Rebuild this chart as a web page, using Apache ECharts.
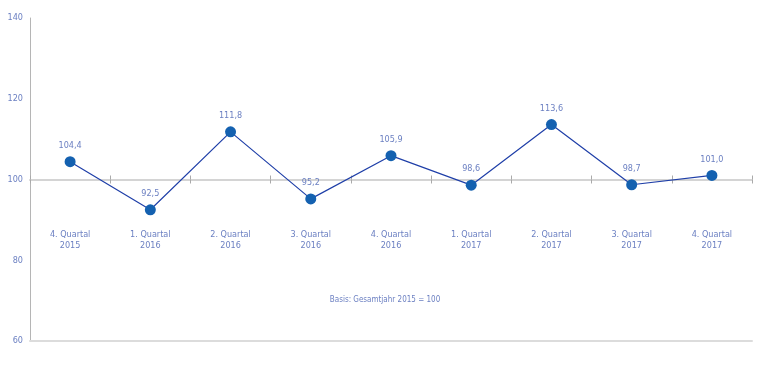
<!DOCTYPE html>
<html><head><meta charset="utf-8">
<script src="https://cdn.jsdelivr.net/npm/echarts@6/dist/echarts.min.js"></script>
<style>html,body{margin:0;padding:0;background:#fff}#c{width:770px;height:365px}</style>
</head><body><div id="c"></div>
<script>
var categories = ["4. Quartal\n2015","1. Quartal\n2016","2. Quartal\n2016","3. Quartal\n2016","4. Quartal\n2016","1. Quartal\n2017","2. Quartal\n2017","3. Quartal\n2017","4. Quartal\n2017"];
var values = [104.4, 92.5, 111.8, 95.2, 105.9, 98.6, 113.6, 98.7, 101.0];
var yTicks = [60, 80, 100, 120, 140];
var note = "Basis: Gesamtjahr 2015 = 100";

var font = "'Liberation Sans Narrow', 'DejaVu Sans Condensed', sans-serif";
var txt = '#6c80c2';
var chart = echarts.init(document.getElementById('c'));
var gridTop = 18, gridBottom = 24, h = 365 - gridTop - gridBottom;
var off100 = -h * (100 - yTicks[0]) / (yTicks[yTicks.length-1] - yTicks[0]);
chart.setOption({
  animation: false,
  grid: {left: 30, right: 18, top: gridTop, bottom: gridBottom},
  xAxis: [
    {type: 'category', data: categories, position: 'bottom', offset: off100,
     axisLine: {lineStyle: {color: '#d4d4d4', width: 2}},
     axisTick: {show: true, length: 4, inside: false, lineStyle: {color: '#aaa', width: 1}},
     axisLabel: {color: txt, fontSize: 9, fontFamily: font, margin: 50, lineHeight: 11}},
    {type: 'category', data: categories, position: 'bottom', offset: off100,
     axisLine: {show: false},
     axisTick: {show: true, length: 4, inside: true, lineStyle: {color: '#aaa', width: 1}},
     axisLabel: {show: false}},
    {type: 'category', data: categories, position: 'bottom', offset: 0,
     axisLine: {lineStyle: {color: '#dcdcdc', width: 2}},
     axisTick: {show: false}, axisLabel: {show: false}}
  ],
  yAxis: {type: 'value', min: yTicks[0], max: yTicks[yTicks.length-1], interval: 20,
    axisLine: {show: true, lineStyle: {color: '#b5b5b5', width: 1}},
    axisTick: {show: false}, splitLine: {show: false},
    axisLabel: {color: txt, fontSize: 9, fontFamily: font, margin: 7}},
  series: [{type: 'line', data: values, xAxisIndex: 0,
    symbol: 'circle', symbolSize: 11,
    lineStyle: {color: '#1f3fa8', width: 1.2},
    itemStyle: {color: '#1461b0'},
    label: {show: true, position: 'top', distance: 6, color: txt, fontSize: 9, fontFamily: font,
      formatter: function(p){return p.value.toFixed(1).replace('.', ',');}}}],
  graphic: [{type: 'text', left: 'center', top: 296,
    style: {text: note, fill: txt, fontSize: 8, fontFamily: font}}]
});
</script></body></html>
